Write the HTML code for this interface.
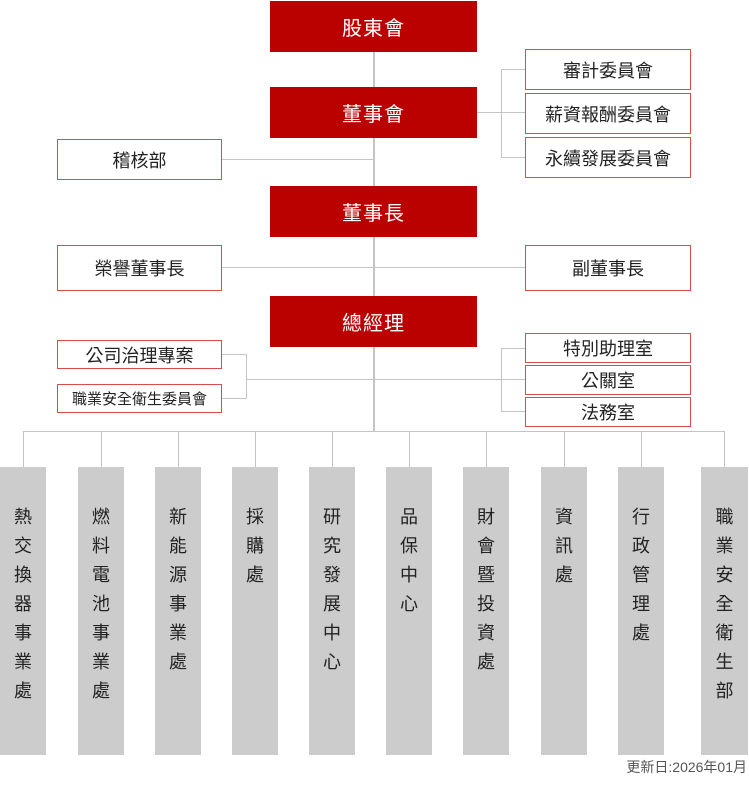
<!DOCTYPE html>
<html><head><meta charset="utf-8"><style>
body{margin:0;width:749px;height:789px;background:#fff;position:relative;overflow:hidden;font-family:"Liberation Sans","Noto Sans CJK TC",sans-serif;}
.a{position:absolute;box-sizing:border-box;}
.r{background:#bb0000;color:#fff;font-size:20px;display:flex;align-items:center;justify-content:center;letter-spacing:1px;}
.w{border:1px solid #d94c4c;background:#fff;color:#222;font-size:18px;display:flex;align-items:center;justify-content:center;}
.g{background:#cccccc;color:#222;font-size:18px;text-align:center;top:467px;height:288px;width:46px;}
.g span{display:block;position:absolute;left:0;right:0;top:36px;line-height:29px;}
.l{position:absolute;background:#c4c4c4;}
</style></head><body>
<div class="l" style="left:373px;top:52px;width:2px;height:380px"></div>
<div class="l" style="left:477px;top:112px;width:48px;height:1px"></div>
<div class="l" style="left:501px;top:69px;width:1px;height:88px"></div>
<div class="l" style="left:501px;top:69px;width:24px;height:1px"></div>
<div class="l" style="left:501px;top:157px;width:24px;height:1px"></div>
<div class="l" style="left:221px;top:159px;width:153px;height:1px"></div>
<div class="l" style="left:221px;top:267px;width:304px;height:1px"></div>
<div class="l" style="left:221px;top:354px;width:25px;height:1px"></div>
<div class="l" style="left:221px;top:398px;width:25px;height:1px"></div>
<div class="l" style="left:246px;top:354px;width:1px;height:45px"></div>
<div class="l" style="left:246px;top:379px;width:279px;height:1px"></div>
<div class="l" style="left:501px;top:348px;width:1px;height:64px"></div>
<div class="l" style="left:501px;top:348px;width:24px;height:1px"></div>
<div class="l" style="left:501px;top:411px;width:24px;height:1px"></div>
<div class="l" style="left:24px;top:431px;width:701px;height:1px"></div>
<div class="l" style="left:23px;top:431px;width:1px;height:36px"></div>
<div class="l" style="left:101px;top:431px;width:1px;height:36px"></div>
<div class="l" style="left:178px;top:431px;width:1px;height:36px"></div>
<div class="l" style="left:255px;top:431px;width:1px;height:36px"></div>
<div class="l" style="left:332px;top:431px;width:1px;height:36px"></div>
<div class="l" style="left:409px;top:431px;width:1px;height:36px"></div>
<div class="l" style="left:486px;top:431px;width:1px;height:36px"></div>
<div class="l" style="left:564px;top:431px;width:1px;height:36px"></div>
<div class="l" style="left:641px;top:431px;width:1px;height:36px"></div>
<div class="l" style="left:724px;top:431px;width:1px;height:36px"></div>
<div class="a r" style="left:270px;top:1px;width:207px;height:51px">股東會</div>
<div class="a r" style="left:270px;top:87px;width:207px;height:51px">董事會</div>
<div class="a r" style="left:270px;top:186px;width:207px;height:51px">董事長</div>
<div class="a r" style="left:270px;top:296px;width:207px;height:51px">總經理</div>
<div class="a w" style="left:525px;top:49px;width:166px;height:41px">審計委員會</div>
<div class="a w" style="left:525px;top:93px;width:166px;height:41px">薪資報酬委員會</div>
<div class="a w" style="left:525px;top:137px;width:166px;height:41px">永續發展委員會</div>
<div class="a w" style="left:57px;top:139px;width:165px;height:41px">稽核部</div>
<div class="a w" style="left:57px;top:245px;width:165px;height:46px">榮譽董事長</div>
<div class="a w" style="left:525px;top:245px;width:166px;height:46px">副董事長</div>
<div class="a w" style="left:57px;top:340px;width:165px;height:29px">公司治理專案</div>
<div class="a w" style="left:57px;top:384px;width:165px;height:29px;font-size:15px">職業安全衛生委員會</div>
<div class="a w" style="left:525px;top:333px;width:166px;height:30px">特別助理室</div>
<div class="a w" style="left:525px;top:365px;width:166px;height:30px">公關室</div>
<div class="a w" style="left:525px;top:397px;width:166px;height:30px">法務室</div>
<div class="a g" style="left:0px"><span>熱<br>交<br>換<br>器<br>事<br>業<br>處</span></div>
<div class="a g" style="left:78px"><span>燃<br>料<br>電<br>池<br>事<br>業<br>處</span></div>
<div class="a g" style="left:155px"><span>新<br>能<br>源<br>事<br>業<br>處</span></div>
<div class="a g" style="left:232px"><span>採<br>購<br>處</span></div>
<div class="a g" style="left:309px"><span>研<br>究<br>發<br>展<br>中<br>心</span></div>
<div class="a g" style="left:386px"><span>品<br>保<br>中<br>心</span></div>
<div class="a g" style="left:463px"><span>財<br>會<br>暨<br>投<br>資<br>處</span></div>
<div class="a g" style="left:541px"><span>資<br>訊<br>處</span></div>
<div class="a g" style="left:618px"><span>行<br>政<br>管<br>理<br>處</span></div>
<div class="a g" style="left:701px;width:47px"><span>職<br>業<br>安<br>全<br>衛<br>生<br>部</span></div>
<div class="a" style="right:2px;top:757px;font-size:14px;color:#555">更新日:2026年01月</div>
</body></html>
